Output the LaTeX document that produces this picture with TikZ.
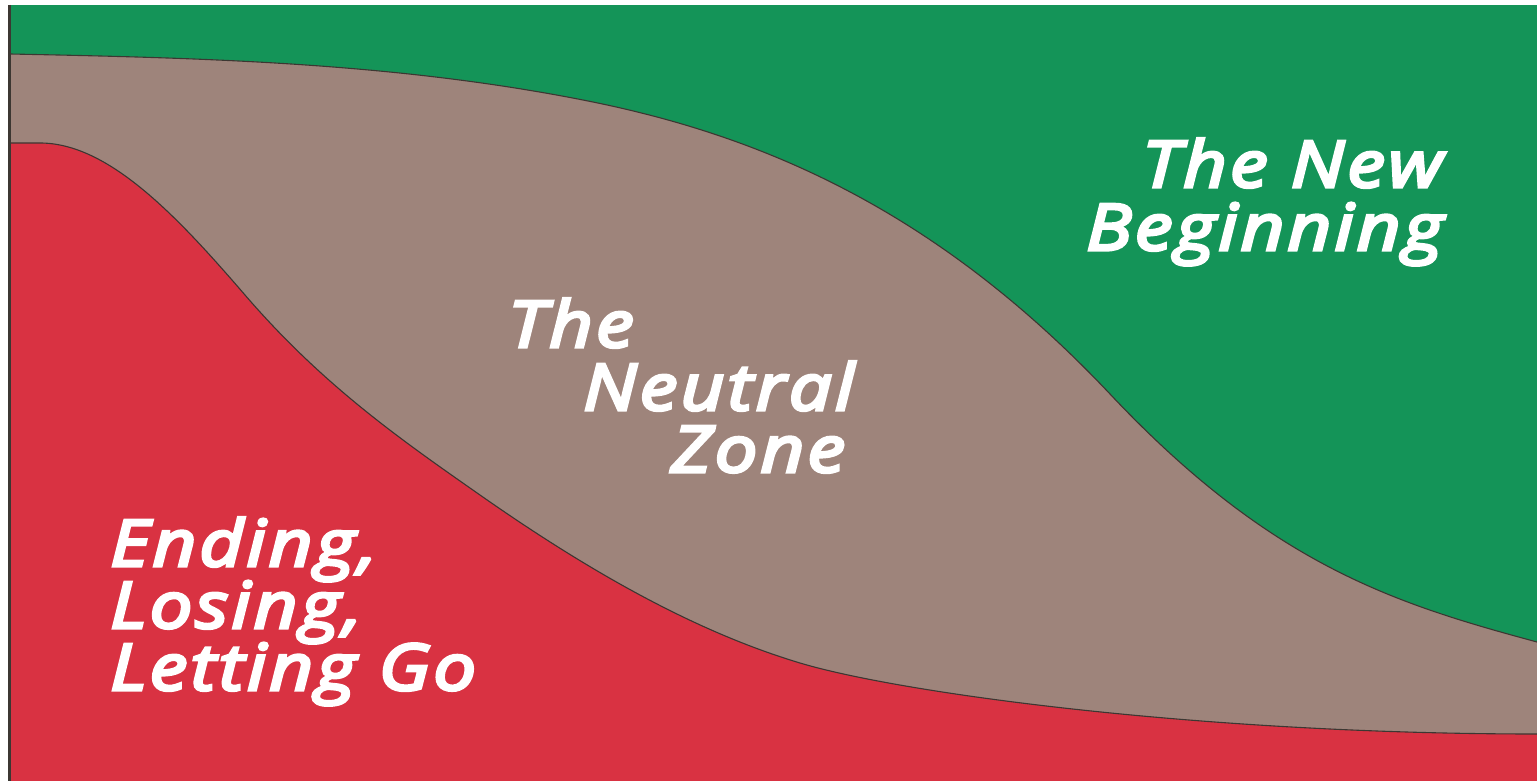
\documentclass[tikz,border=0pt]{standalone}
\usepackage{fontspec}
\setmainfont{Open Sans}
\newfontfamily\labfont{Open Sans}[FakeStretch=1.185, LetterSpace=5, FakeBold=5]
\newcommand\mylabsetup{\labfont\itshape\fontsize{64}{62}\selectfont\lineskiplimit=-100pt\relax\lineskip=0pt\relax}
\definecolor{zgreen}{RGB}{20,148,88}
\definecolor{zgrey}{RGB}{158,132,123}
\definecolor{zred}{RGB}{217,50,66}
\definecolor{zline}{RGB}{60,55,50}
\tikzset{
  lab/.style={text=white, inner sep=0pt, font=\mylabsetup, anchor=base west},
  edge/.style={draw=zline, line width=1.1pt}
}
\begin{document}
\begin{tikzpicture}[x=1pt,y=-1pt]
\useasboundingbox (0,0) rectangle (1537,781);
\fill[white] (0,0) rectangle (1537,781);
\fill[zgreen] (10,5) rectangle (1537,781);
% neutral zone (grey) top boundary
\fill[zgrey] (10,54) .. controls (202.7,57.9) and (395.3,62.5) .. (588,101)
  .. controls (762,135.8) and (936,209.6) .. (1110,394)
  .. controls (1271,565) and (1394.7,603.6) .. (1537,642)
  -- (1537,781) -- (10,781) -- cycle;
\draw[edge] (10,54) .. controls (202.7,57.9) and (395.3,62.5) .. (588,101)
  .. controls (762,135.8) and (936,209.6) .. (1110,394)
  .. controls (1271,565) and (1394.7,603.6) .. (1537,642);
% ending (red) top boundary
\fill[zred] (10,143) -- (40,143) .. controls (108.3,143) and (176.7,215.7) .. (245,295)
  .. controls (323.3,385.9) and (401.7,440.2) .. (480,495)
  .. controls (586.7,569.7) and (693.3,631) .. (800,663)
  .. controls (900,693) and (1200,734) .. (1537,734)
  -- (1537,781) -- (10,781) -- cycle;
\draw[edge] (10,143) -- (40,143) .. controls (108.3,143) and (176.7,215.7) .. (245,295)
  .. controls (323.3,385.9) and (401.7,440.2) .. (480,495)
  .. controls (586.7,569.7) and (693.3,631) .. (800,663)
  .. controls (900,693) and (1200,734) .. (1537,734);
\draw[zline, line width=2.5pt] (9.5,5) -- (9.5,781);
\node[lab, align=left] (ending) at (110,690) {Ending,\\Losing,\\Letting Go};
\node[lab] (neu1) at (508,347) {The};
\node[lab] (neu2) at (583,410) {Neutral};
\node[lab] (neu3) at (671,472) {Zone};
\node[lab] (new1) at (1142,187) {The New};
\node[lab] (new2) at (1086,250) {Beginning};
\end{tikzpicture}
\end{document}
